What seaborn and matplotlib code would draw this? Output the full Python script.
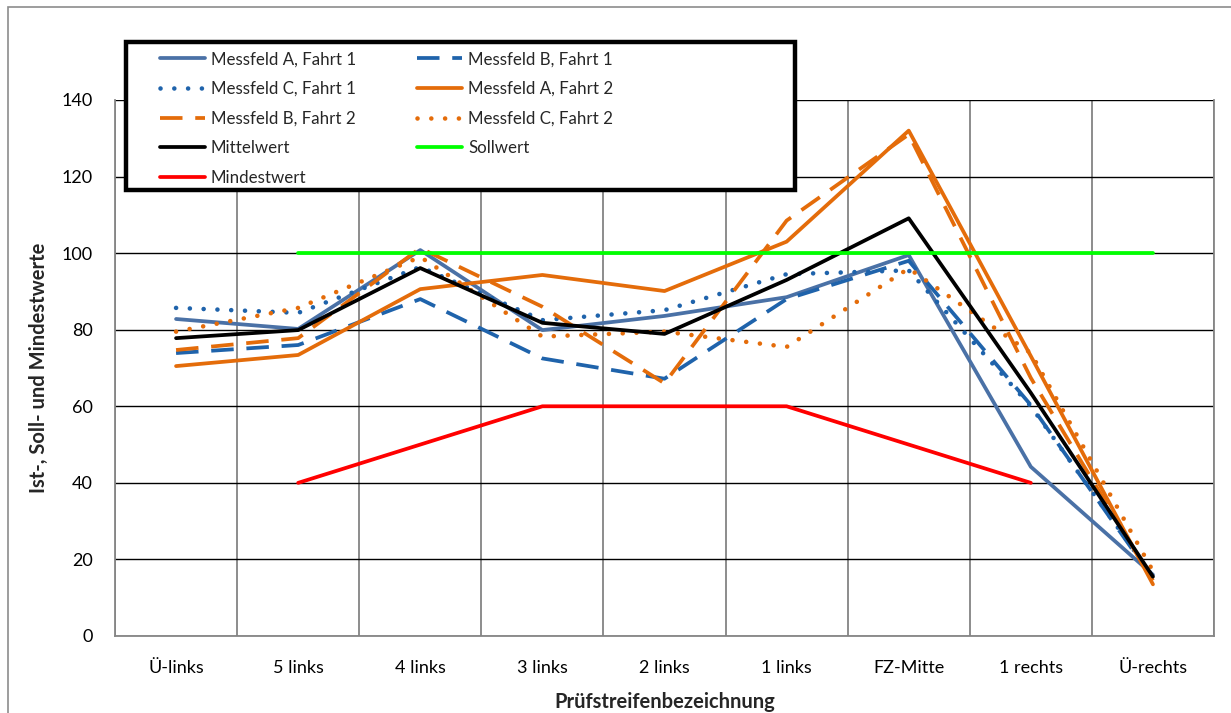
import numpy as np
import pandas as pd
import seaborn as sns
import matplotlib
matplotlib.use("Agg")
import matplotlib.pyplot as plt
from matplotlib.patches import Rectangle

# Test strips across the lane
categories = ["Ü-links", "5 links", "4 links", "3 links", "2 links",
              "1 links", "FZ-Mitte", "1 rechts", "Ü-rechts"]

# Measured values per field and run
messfeld_a_fahrt1 = [82.8, 80.2, 100.8, 79.9, 83.6, 88.5, 99.5, 44.2, 16.0]
messfeld_b_fahrt1 = [73.9, 76.0, 88.0, 72.5, 67.2, 88.0, 98.0, 60.3, 15.0]
messfeld_c_fahrt1 = [85.7, 84.4, 96.4, 82.5, 85.1, 94.5, 95.5, 60.0, 15.5]
messfeld_a_fahrt2 = [70.5, 73.4, 90.6, 94.3, 90.1, 103.0, 132.0, 73.1, 13.5]
messfeld_b_fahrt2 = [74.7, 77.8, 101.3, 86.0, 66.0, 108.5, 131.0, 67.4, 14.5]
messfeld_c_fahrt2 = [79.5, 85.7, 99.0, 78.2, 79.5, 75.5, 96.0, 73.9, 17.0]
mittelwert = [77.8, 79.9, 96.1, 81.8, 78.9, 93.0, 109.1, 63.5, 15.5]
sollwert = [np.nan, 100, 100, 100, 100, 100, 100, 100, 100]
mindestwert = [np.nan, 40, 50, 60, 60, 60, 50, 40, np.nan]

series_names = ["Messfeld A, Fahrt 1", "Messfeld B, Fahrt 1", "Messfeld C, Fahrt 1",
                "Messfeld A, Fahrt 2", "Messfeld B, Fahrt 2", "Messfeld C, Fahrt 2",
                "Mittelwert", "Sollwert", "Mindestwert"]
series_values = [messfeld_a_fahrt1, messfeld_b_fahrt1, messfeld_c_fahrt1,
                 messfeld_a_fahrt2, messfeld_b_fahrt2, messfeld_c_fahrt2,
                 mittelwert, sollwert, mindestwert]

STEEL = "#4A71A6"
BLUE = "#1F63AB"
ORANGE = "#E46C0A"
DASH = (6, 3.4)
DOT = (0.01, 3.0)
styles = {
    "Messfeld A, Fahrt 1": dict(color=STEEL, dashes=None),
    "Messfeld B, Fahrt 1": dict(color=BLUE, dashes=DASH),
    "Messfeld C, Fahrt 1": dict(color=BLUE, dashes=DOT),
    "Messfeld A, Fahrt 2": dict(color=ORANGE, dashes=None),
    "Messfeld B, Fahrt 2": dict(color=ORANGE, dashes=DASH),
    "Messfeld C, Fahrt 2": dict(color=ORANGE, dashes=DOT),
    "Mittelwert": dict(color="black", dashes=None),
    "Sollwert": dict(color="#00FF00", dashes=None),
    "Mindestwert": dict(color="#FF0000", dashes=None),
}

rows = []
for name, vals in zip(series_names, series_values):
    for i, v in enumerate(vals):
        rows.append({"pos": i, "Kategorie": categories[i], "Serie": name, "Wert": v})
df = pd.DataFrame(rows)

sns.set_theme(style="white")
plt.rcParams["font.family"] = ["Lato", "DejaVu Sans"]

fig = plt.figure(figsize=(12.31, 7.13), dpi=100)
ax = fig.add_axes([115 / 1231, 1 - 636 / 713, (1214 - 115) / 1231, (636 - 100) / 713])

LW = 2.7
handles = {}
for name in series_names:
    sub = df[df["Serie"] == name].dropna(subset=["Wert"])
    st = styles[name]
    lw = 3.3 if st["dashes"] == DOT else LW
    sns.lineplot(data=sub, x="pos", y="Wert", ax=ax, color=st["color"],
                 linewidth=lw, label=name, estimator=None, sort=False)
    line = ax.lines[-1]
    if st["dashes"] is not None:
        line.set_dashes(st["dashes"])
        line.set_dash_capstyle("round" if st["dashes"] == DOT else "butt")
    handles[name] = line

# axes limits and grid
ax.set_xlim(-0.5, len(categories) - 0.5)
ax.set_ylim(0, 140)
ax.set_yticks(np.arange(0, 141, 20))
ax.set_xticks(np.arange(len(categories)))
ax.set_xticklabels(categories)
ax.set_xticks(np.arange(-0.5, len(categories), 1.0), minor=True)
ax.tick_params(axis="x", which="major", length=0, pad=17, labelsize=13, colors="black")
ax.tick_params(axis="x", which="minor", length=7, width=1, color="#868686", direction="out")
ax.tick_params(axis="y", which="major", length=8, width=1, color="#868686",
               direction="out", pad=8, labelsize=13, labelcolor="black")
ax.grid(False)
ax.yaxis.grid(True, color="black", linewidth=1.0)
ax.xaxis.grid(True, which="minor", color="#8C8C8C", linewidth=1.4)
ax.set_axisbelow(True)
for side in ["left", "bottom", "right"]:
    ax.spines[side].set_visible(True)
    ax.spines[side].set_color("#868686")
    ax.spines[side].set_linewidth(1.3)
ax.spines["top"].set_visible(False)

ax.set_xlabel("Prüfstreifenbezeichnung", fontsize=14.5, fontweight="bold", labelpad=12)
ax.set_ylabel("Ist-, Soll- und Mindestwerte", fontsize=14.5, fontweight="bold", labelpad=9)

# legend entries run row by row across two columns
order = ["Messfeld A, Fahrt 1", "Messfeld C, Fahrt 1", "Messfeld B, Fahrt 2",
         "Mittelwert", "Mindestwert",
         "Messfeld B, Fahrt 1", "Messfeld A, Fahrt 2", "Messfeld C, Fahrt 2", "Sollwert"]
leg = ax.legend([handles[n] for n in order], order,
                loc="upper left", bbox_to_anchor=(0.038, (636 - 48) / 536),
                ncol=2, frameon=False, fontsize=12.2, handlelength=2.65,
                handletextpad=0.35, columnspacing=3.6, labelspacing=0.8,
                borderaxespad=0, borderpad=0.2)
leg.set_zorder(6)
box = Rectangle((126 / 1231, 1 - 190 / 713), (795 - 126) / 1231, (190 - 42) / 713,
                transform=fig.transFigure, facecolor="white", edgecolor="black",
                linewidth=3.2, zorder=5, clip_on=False)
ax.add_patch(box)

# outer chart frame
fig.add_artist(Rectangle((8 / 1231, -0.1), 1.2, 1.1 - 7 / 713, transform=fig.transFigure,
                         fill=False, edgecolor="#8C8C8C", linewidth=1.2))

fig.savefig("out.png", dpi=100)
